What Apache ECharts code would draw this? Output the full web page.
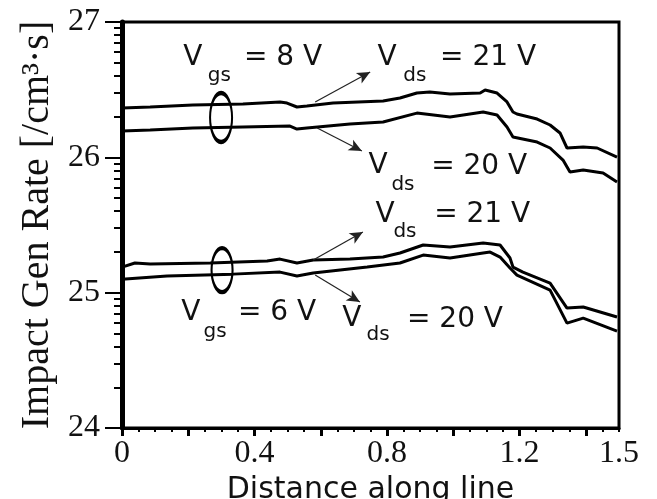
<!DOCTYPE html>
<html>
<head>
<meta charset="utf-8">
<script src="https://cdn.jsdelivr.net/npm/echarts@6/dist/echarts.min.js"></script>
<style>
  html, body { margin: 0; padding: 0; background: #fff; }
  #chart { width: 657px; height: 499px; }
</style>
</head>
<body>
<div id="chart"></div>
<script>
// ---- Data (x = distance along line, y = log10 impact generation rate) ----
const vgs8_vds21_x = [0, 0.085, 0.214, 0.365, 0.477, 0.498, 0.528, 0.558, 0.637, 0.788, 0.839, 0.890, 0.929, 0.990, 1.081, 1.096, 1.132, 1.162, 1.180, 1.192, 1.253, 1.292, 1.322, 1.343, 1.392, 1.434, 1.494];
const vgs8_vds21_y = [26.364, 26.372, 26.387, 26.394, 26.409, 26.401, 26.372, 26.379, 26.401, 26.416, 26.438, 26.475, 26.483, 26.468, 26.475, 26.497, 26.475, 26.409, 26.335, 26.320, 26.283, 26.239, 26.180, 26.069, 26.076, 26.069, 26.002];

const vgs8_vds20_x = [0, 0.085, 0.214, 0.365, 0.507, 0.528, 0.558, 0.688, 0.788, 0.890, 0.990, 1.090, 1.132, 1.162, 1.180, 1.253, 1.292, 1.331, 1.352, 1.392, 1.452, 1.494];
const vgs8_vds20_y = [26.194, 26.202, 26.217, 26.224, 26.231, 26.209, 26.217, 26.246, 26.261, 26.327, 26.298, 26.335, 26.313, 26.224, 26.150, 26.113, 26.069, 25.980, 25.891, 25.906, 25.884, 25.817];

const vgs6_vds21_x = [0, 0.039, 0.085, 0.266, 0.438, 0.477, 0.528, 0.577, 0.688, 0.788, 0.839, 0.909, 0.990, 1.090, 1.141, 1.171, 1.180, 1.210, 1.292, 1.343, 1.392, 1.494];
const vgs6_vds21_y = [25.189, 25.219, 25.211, 25.219, 25.234, 25.248, 25.219, 25.241, 25.248, 25.263, 25.293, 25.352, 25.337, 25.367, 25.352, 25.256, 25.189, 25.152, 25.071, 24.886, 24.894, 24.820];

const vgs6_vds20_x = [0, 0.136, 0.335, 0.477, 0.528, 0.577, 0.740, 0.839, 0.909, 0.990, 1.090, 1.111, 1.141, 1.171, 1.192, 1.292, 1.343, 1.392, 1.494];
const vgs6_vds20_y = [25.100, 25.123, 25.137, 25.152, 25.123, 25.145, 25.189, 25.219, 25.278, 25.256, 25.293, 25.300, 25.263, 25.182, 25.130, 25.019, 24.775, 24.812, 24.716];

// ---- Tick labels ----
const xTickLabels = [0, 0.4, 0.8, 1.2, 1.5];
const xMajorTicks = [0, 0.2, 0.4, 0.6, 0.8, 1.0, 1.2, 1.4];
const xMinorTicks = [0.05,0.1,0.15,0.25,0.3,0.35,0.45,0.5,0.55,0.65,0.7,0.75,0.85,0.9,0.95,1.05,1.1,1.15,1.25,1.3,1.35,1.45,1.5];
const yTickLabels = [24, 25, 26, 27];
const yDecades = [24, 25, 26];
const yMinorMultipliers = [2, 3, 4, 5, 6, 7, 8, 9];

const xName = 'Distance along line';
const yName = 'Impact Gen Rate [/cm³·s]';

// ---- Annotations (data coordinates) ----
const annoTexts = [
  // Vgs = 8 V
  { text: 'V', coord: [0.214, 26.734], size: 28 },
  { text: 'gs', coord: [0.294, 26.601], size: 20 },
  { text: '= 8 V', coord: [0.486, 26.734], size: 28 },
  // Vds = 21 V (upper)
  { text: 'V', coord: [0.800, 26.734], size: 28 },
  { text: 'ds', coord: [0.884, 26.601], size: 20 },
  { text: '= 21 V', coord: [1.105, 26.734], size: 28 },
  // Vds = 20 V (upper)
  { text: 'V', coord: [0.773, 25.936], size: 28 },
  { text: 'ds', coord: [0.848, 25.795], size: 20 },
  { text: '= 20 V', coord: [1.078, 25.928], size: 28 },
  // Vds = 21 V (lower)
  { text: 'V', coord: [0.794, 25.574], size: 28 },
  { text: 'ds', coord: [0.854, 25.448], size: 20 },
  { text: '= 21 V', coord: [1.087, 25.574], size: 28 },
  // Vgs = 6 V
  { text: 'V', coord: [0.208, 24.849], size: 28 },
  { text: 'gs', coord: [0.281, 24.709], size: 20 },
  { text: '= 6 V', coord: [0.468, 24.849], size: 28 },
  // Vds = 20 V (lower)
  { text: 'V', coord: [0.694, 24.805], size: 28 },
  { text: 'ds', coord: [0.773, 24.687], size: 20 },
  { text: '= 20 V', coord: [1.005, 24.797], size: 28 }
];
const annoArrows = [
  [[0.583, 26.409], [0.749, 26.630]],
  [[0.589, 26.217], [0.724, 26.047]],
  [[0.577, 25.241], [0.727, 25.448]],
  [[0.583, 25.130], [0.718, 24.931]]
];
const annoEllipses = [
  { coord: [0.299, 26.294], size: [22, 49] },
  { coord: [0.302, 25.167], size: [21, 44] }
];

// ---- Build ----
function zip(xs, ys) { return xs.map((x, i) => [x, ys[i]]); }
const yMinorTicks = [];
yDecades.forEach(d => yMinorMultipliers.forEach(k => yMinorTicks.push(d + Math.log10(k))));

const serif = 'Liberation Serif';
const sans = 'DejaVu Sans';

const lineBase = {
  type: 'line', showSymbol: false, symbol: 'none', smooth: false,
  lineStyle: { color: '#000', width: 3 }, itemStyle: { color: '#000' },
  silent: true, animation: false, z: 3
};

const chart = echarts.init(document.getElementById('chart'), null, { renderer: 'canvas' });

const option = {
  backgroundColor: '#fff',
  animation: false,
  grid: { left: 122, right: 38, top: 22, bottom: 71, containLabel: false, outerBoundsMode: 'none',
    show: true, borderColor: '#000', borderWidth: 3, backgroundColor: 'transparent' },
  xAxis: [
    {
      type: 'value', min: 0, max: 1.5, position: 'bottom',
      name: xName, nameLocation: 'middle', nameGap: 46,
      nameTextStyle: { fontFamily: sans, fontSize: 30, color: '#111' },
      axisLine: { show: true, onZero: false, lineStyle: { color: '#000', width: 3 } },
      axisTick: { show: true, customValues: xMajorTicks, length: 8, lineStyle: { color: '#000', width: 3 } },
      axisLabel: { show: true, customValues: xTickLabels, margin: 10, fontFamily: serif, fontSize: 32, color: '#111',
        formatter: v => String(v) },
      splitLine: { show: false }
    },
    {
      type: 'value', min: 0, max: 1.5, position: 'bottom', gridIndex: 0,
      axisLine: { show: false, onZero: false },
      axisTick: { show: true, customValues: xMinorTicks, length: 4, lineStyle: { color: '#000', width: 2 } },
      axisLabel: { show: false },
      splitLine: { show: false }
    }
  ],
  yAxis: [
    {
      type: 'value', min: 24, max: 27, interval: 1, position: 'left',
      name: yName, nameLocation: 'middle', nameGap: 64,
      nameTextStyle: { fontFamily: serif, fontSize: 40, color: '#111' },
      axisLine: { show: true, onZero: false, lineStyle: { color: '#000', width: 5 } },
      axisTick: { show: true, customValues: yTickLabels, length: 17, lineStyle: { color: '#000', width: 2 } },
      axisLabel: { show: true, customValues: yTickLabels, margin: 22, fontFamily: serif, fontSize: 32, color: '#111' },
      splitLine: { show: false }
    },
    {
      type: 'value', min: 24, max: 27, position: 'left',
      axisLine: { show: false, onZero: false },
      axisTick: { show: true, customValues: yMinorTicks, length: 8, lineStyle: { color: '#000', width: 2 } },
      axisLabel: { show: false },
      splitLine: { show: false }
    }
  ],
  series: [
    Object.assign({}, lineBase, {
      name: 'Vgs=8V, Vds=21V', data: zip(vgs8_vds21_x, vgs8_vds21_y),
      markLine: {
        silent: true, animation: false, symbol: ['none', 'arrow'], symbolSize: [9, 13],
        label: { show: false },
        lineStyle: { color: '#222', width: 1.2, type: 'solid' },
        data: annoArrows.map(a => [{ coord: a[0] }, { coord: a[1] }])
      },
      markPoint: {
        silent: true, animation: false,
        data: annoEllipses.map(e => ({
          coord: e.coord, symbol: 'circle', symbolSize: e.size,
          itemStyle: { color: 'rgba(0,0,0,0)', borderColor: '#000', borderWidth: 3 },
          label: { show: false }
        })).concat(annoTexts.map(t => ({
          coord: t.coord, symbol: 'circle', symbolSize: 0,
          itemStyle: { color: 'rgba(0,0,0,0)' },
          label: { show: true, position: 'inside', formatter: t.text, fontFamily: sans, fontSize: t.size, color: '#111' }
        })))
      }
    }),
    Object.assign({}, lineBase, { name: 'Vgs=8V, Vds=20V', data: zip(vgs8_vds20_x, vgs8_vds20_y) }),
    Object.assign({}, lineBase, { name: 'Vgs=6V, Vds=21V', data: zip(vgs6_vds21_x, vgs6_vds21_y) }),
    Object.assign({}, lineBase, { name: 'Vgs=6V, Vds=20V', data: zip(vgs6_vds20_x, vgs6_vds20_y) })
  ]
};
chart.setOption(option);
</script>
</body>
</html>
